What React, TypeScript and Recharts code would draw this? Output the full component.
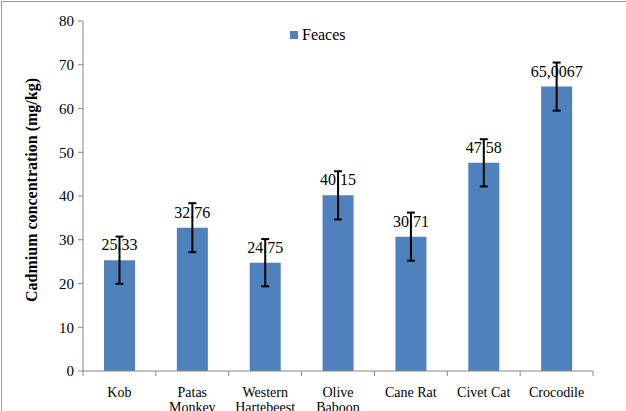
import React from "react";
import { BarChart, Bar, XAxis, YAxis, ErrorBar, LabelList, Legend } from "recharts";

const categories = ["Kob", "Patas Monkey", "Western Hartebeest", "Olive Baboon", "Cane Rat", "Civet Cat", "Crocodile"];
const categoryLines = [["Kob"], ["Patas", "Monkey"], ["Western", "Hartebeest"], ["Olive", "Baboon"], ["Cane Rat"], ["Civet Cat"], ["Crocodile"]];
const values = [25.33, 32.76, 24.75, 40.15, 30.71, 47.58, 65.0067];
const valueLabels = ["25.33", "32.76", "24.75", "40.15", "30.71", "47.58", "65,0067"];
const errors = [5.4, 5.6, 5.4, 5.5, 5.5, 5.4, 5.5];
const yTicks = [0, 10, 20, 30, 40, 50, 60, 70, 80];

const data = categories.map((c, i) => ({
  name: c,
  value: values[i],
  err: errors[i],
  label: valueLabels[i],
}));

const FONT = "'Liberation Serif', 'Times New Roman', serif";
const AXIS = "#868686";

const XTick = (props: any) => {
  const { x, y, payload, index } = props;
  const off = payload.offset || 0;
  const lines = categoryLines[index] || [String(payload.value)];
  return (
    <g>
      <line x1={x - off} y1={y} x2={x - off} y2={y + 5} stroke={AXIS} />
      {index === categories.length - 1 && (
        <line x1={x + off} y1={y} x2={x + off} y2={y + 5} stroke={AXIS} />
      )}
      {lines.map((l: string, i: number) => (
        <text key={i} x={x} y={y + 26 + i * 15} textAnchor="middle" fontFamily={FONT} fontSize={14} fill="#000">
          {l}
        </text>
      ))}
    </g>
  );
};

const ValueLabel = (props: any) => {
  const { x, y, width, index } = props;
  return (
    <text x={x + width / 2} y={y - 10} textAnchor="middle" fontFamily={FONT} fontSize={16} fill="#000">
      {valueLabels[index]}
    </text>
  );
};

const YTitle = () => (
  <text
    x={0}
    y={0}
    transform="translate(37,190) rotate(-90)"
    textAnchor="middle"
    fontFamily={FONT}
    fontSize={16}
    fontWeight="bold"
    fill="#000"
  >
    Cadmium concentration (mg/kg)
  </text>
);

const LegendContent = () => (
  <div style={{ display: "flex", alignItems: "center", fontFamily: FONT, fontSize: 16 }}>
    <div style={{ width: 8, height: 8, background: "#4F81BD", marginRight: 4 }} />
    <span>Feaces</span>
  </div>
);

export default function App() {
  return (
    <div
      style={{
        position: "absolute",
        left: 0,
        top: 0,
        width: 626,
        height: 411,
        background: "#fff",
        overflow: "hidden",
      }}
    >
      <div style={{ position: "absolute", left: 1, top: 1, width: 640, height: 420, borderLeft: "1px solid #9a9a9a", borderTop: "1px solid #9a9a9a" }} />
      <BarChart
        width={626}
        height={411}
        data={data}
        margin={{ top: 21, right: 33, bottom: 0, left: 0 }}
      >
        <XAxis
          dataKey="name"
          height={40}
          interval={0}
          tick={<XTick />}
          tickLine={false}
          tickSize={0}
          tickMargin={0}
          axisLine={{ stroke: AXIS }}
        />
        <YAxis
          width={83}
          domain={[0, 80]}
          ticks={yTicks}
          interval={0}
          tickSize={5}
          tickMargin={4}
          tickLine={{ stroke: AXIS }}
          axisLine={{ stroke: AXIS }}
          tick={{ fontFamily: FONT, fontSize: 15, fill: "#000" }}
          label={<YTitle />}
        />
        <Legend
          verticalAlign="middle"
          align="center"
          layout="horizontal"
          content={<LegendContent />}
          wrapperStyle={{ position: "absolute", top: 26, left: 290, width: 120, height: 20 }}
        />
        <Bar dataKey="value" fill="#4F81BD" barSize={31} isAnimationActive={false}>
          <LabelList dataKey="label" content={<ValueLabel />} />
          <ErrorBar dataKey="err" width={4} strokeWidth={2} stroke="#000" direction="y" />
        </Bar>
      </BarChart>
    </div>
  );
}
